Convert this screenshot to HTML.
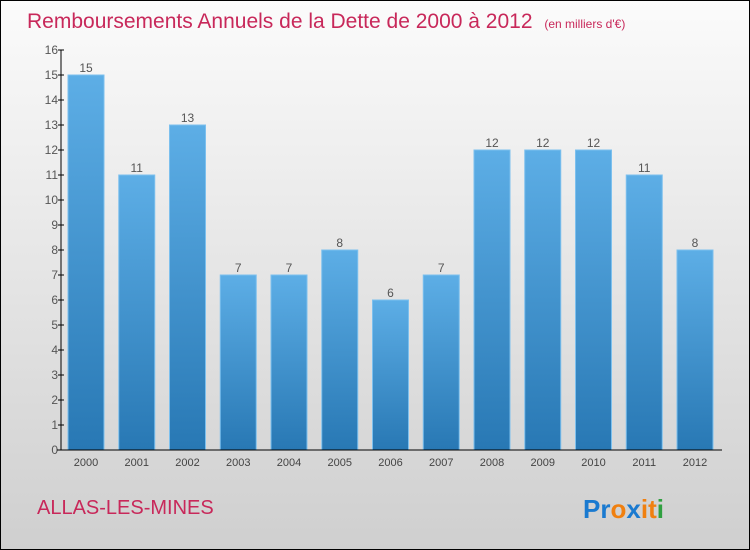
<!DOCTYPE html>
<html><head><meta charset="utf-8"><style>
body{margin:0}
#c{position:relative;width:748px;height:548px;border:1px solid #000;background:linear-gradient(#fbfbfb,#cfcfcf);font-family:"Liberation Sans",sans-serif;overflow:hidden}
</style></head><body>
<div id="c">
<svg id="s" width="748" height="548" style="position:absolute;left:0;top:0">
<defs><linearGradient id="bg" x1="0" y1="0" x2="0" y2="1"><stop offset="0" stop-color="#5daee6"/><stop offset="1" stop-color="#2878b4"/></linearGradient></defs>
<text x="26" y="27" font-size="21" fill="#c8285a">Remboursements Annuels de la Dette de 2000 à 2012 <tspan font-size="12" dx="6">(en milliers d'€)</tspan></text>
<text x="36" y="513" font-size="20" fill="#c8285a">ALLAS-LES-MINES</text>
<g font-size="26" font-weight="bold" font-family="'Liberation Sans',sans-serif">
<text x="582" y="517"><tspan fill="#1a7ad0">Pr</tspan><tspan fill="#f08010">o</tspan><tspan fill="#1a7ad0">x</tspan><tspan fill="#f08010">i</tspan><tspan fill="#f08010">t</tspan><tspan fill="#30a040">i</tspan></text></g>
<g id="plot"></g>
</svg>
</div>
<script>
const categories=["2000","2001","2002","2003","2004","2005","2006","2007","2008","2009","2010","2011","2012"];
const values=[15,11,13,7,7,8,6,7,12,12,12,11,8];
const yTicks=[0,1,2,3,4,5,6,7,8,9,10,11,12,13,14,15,16];
const NS="http://www.w3.org/2000/svg";
const g=document.getElementById('plot');
const x0=60,y0=449,yTop=49,step=50.75,bw=36;
const y=v=>y0-(y0-yTop)*v/16;
const xc=i=>85+i*step;
function mk(t,a,p){const e=document.createElementNS(NS,t);for(const k in a)e.setAttribute(k,a[k]);(p||g).appendChild(e);return e;}
values.forEach((v,i)=>{
 const r=mk('rect',{x:xc(i)-bw/2,y:y(v),width:bw,height:y0-y(v),fill:'url(#bg)',stroke:'#7cc0ee','stroke-width':1});
 
 
 const t=mk('text',{x:xc(i),y:y(v)-3,'text-anchor':'middle','font-size':12,fill:'#555'});t.textContent=v;
 
 
 const l=mk('text',{x:xc(i),y:y0+16,'text-anchor':'middle','font-size':11,fill:'#444'});l.textContent=categories[i];
 
 
});
yTicks.forEach(v=>{
 mk('line',{x1:x0-3,x2:x0+3,y1:y(v),y2:y(v),stroke:'#000'});
 const t=mk('text',{x:x0-3,y:y(v)+4,'text-anchor':'end','font-size':12,fill:'#555'});t.textContent=v;
 
 
});
const ya=mk('line',{x1:x0,x2:x0,y1:yTop,y2:y0,stroke:'#000'});


const xa=mk('line',{x1:x0-4,x2:721,y1:y0,y2:y0,stroke:'#000'});


</script>
</body></html>
